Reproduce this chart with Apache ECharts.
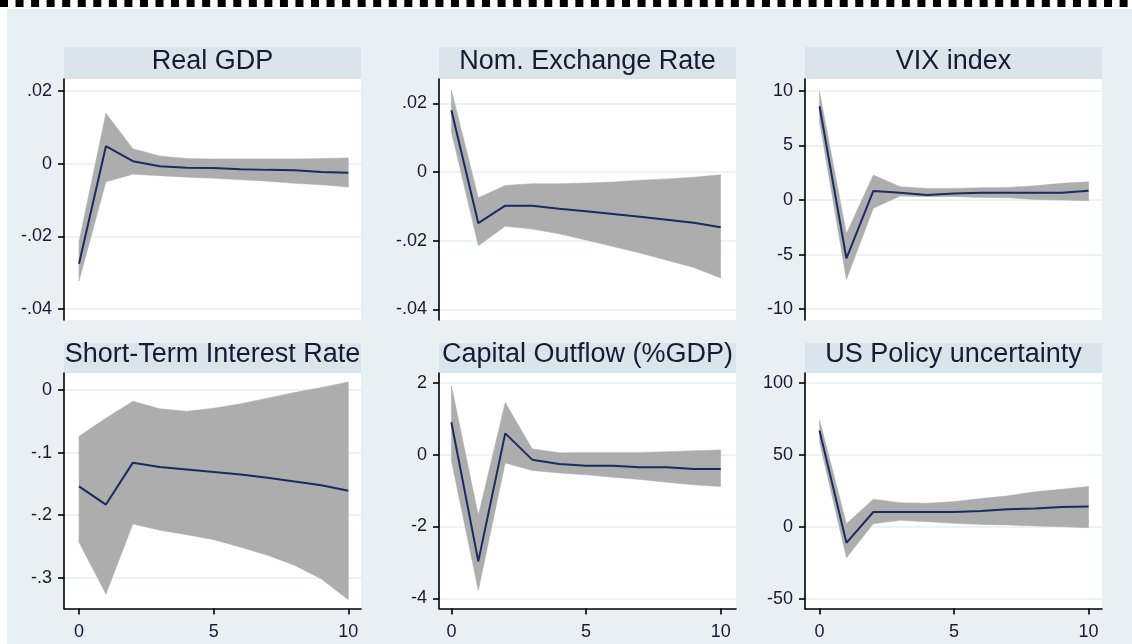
<!DOCTYPE html>
<html>
<head>
<meta charset="utf-8">
<script src="https://cdn.jsdelivr.net/npm/echarts@6/dist/echarts.min.js"></script>
<style>
  html, body { margin: 0; padding: 0; background: #ffffff; }
  #chart { width: 1132px; height: 644px; }
</style>
</head>
<body>
<div id="chart"></div>
<script>
// Impulse-response horizon (periods after the shock)
const steps = [0, 1, 2, 3, 4, 5, 6, 7, 8, 9, 10];

const titles = [
  'Real GDP', 'Nom. Exchange Rate', 'VIX index',
  'Short-Term Interest Rate', 'Capital Outflow (%GDP)', 'US Policy uncertainty'
];

// Real GDP
const gdpIrf = [-0.0275, 0.0048, 0.0007, -0.0007, -0.0011, -0.0012, -0.0015, -0.0017, -0.0018, -0.0023, -0.0025];
const gdpHi  = [-0.0214, 0.0139, 0.0041, 0.0021, 0.0014, 0.0013, 0.0013, 0.0013, 0.0013, 0.0014, 0.0016];
const gdpLo  = [-0.0323, -0.0050, -0.0029, -0.0033, -0.0037, -0.0040, -0.0044, -0.0048, -0.0054, -0.0058, -0.0064];

// Nominal exchange rate
const fxIrf = [0.0180, -0.0149, -0.0098, -0.0098, -0.0107, -0.0114, -0.0122, -0.0130, -0.0139, -0.0148, -0.0161];
const fxHi  = [0.0239, -0.0075, -0.0039, -0.0034, -0.0034, -0.0032, -0.0029, -0.0024, -0.0020, -0.0015, -0.0008];
const fxLo  = [0.0117, -0.0215, -0.0158, -0.0166, -0.0180, -0.0198, -0.0217, -0.0236, -0.0257, -0.0278, -0.0309];

// VIX index
const vixIrf = [8.60, -5.35, 0.83, 0.67, 0.46, 0.61, 0.67, 0.67, 0.67, 0.67, 0.86];
const vixHi  = [9.94, -3.06, 2.29, 1.22, 1.07, 1.07, 1.13, 1.16, 1.31, 1.53, 1.68];
const vixLo  = [7.19, -7.28, -0.76, 0.37, 0.31, 0.31, 0.24, 0.21, 0.06, 0.00, -0.06];

// Short-term interest rate
const rateIrf = [-0.154, -0.183, -0.116, -0.123, -0.127, -0.131, -0.135, -0.140, -0.146, -0.152, -0.161];
const rateHi  = [-0.074, -0.045, -0.018, -0.030, -0.034, -0.029, -0.022, -0.013, -0.004, 0.004, 0.013];
const rateLo  = [-0.243, -0.326, -0.214, -0.224, -0.231, -0.239, -0.251, -0.264, -0.280, -0.302, -0.335];

// Capital outflow (% of GDP)
const flowIrf = [0.90, -2.97, 0.59, -0.14, -0.26, -0.31, -0.31, -0.35, -0.35, -0.40, -0.40];
const flowHi  = [1.92, -1.69, 1.45, 0.16, 0.05, 0.06, 0.06, 0.06, 0.08, 0.11, 0.13];
const flowLo  = [-0.17, -3.78, -0.23, -0.44, -0.51, -0.56, -0.63, -0.69, -0.77, -0.84, -0.89];

// US economic policy uncertainty
const epuIrf = [66.7, -11.2, 10.2, 10.2, 10.2, 10.2, 10.9, 12.1, 12.6, 13.7, 14.0];
const epuHi  = [74.2, 2.1, 19.1, 16.7, 16.3, 17.4, 19.5, 21.4, 24.2, 26.0, 27.9];
const epuLo  = [58.6, -21.6, 2.1, 4.4, 3.5, 2.3, 1.6, 1.2, 0.5, 0.0, -0.7];

// Tick values
const gdpTicks  = [-0.04, -0.02, 0, 0.02];
const fxTicks   = [-0.04, -0.02, 0, 0.02];
const vixTicks  = [-10, -5, 0, 5, 10];
const rateTicks = [-0.3, -0.2, -0.1, 0];
const flowTicks = [-4, -2, 0, 2];
const epuTicks  = [-50, 0, 50, 100];
const stepTicks = [0, 5, 10];

const panels = [
  { irf: gdpIrf,  hi: gdpHi,  lo: gdpLo,  ticks: gdpTicks,  ymin: -0.0430, ymax: 0.0233 },
  { irf: fxIrf,   hi: fxHi,   lo: fxLo,   ticks: fxTicks,   ymin: -0.0431, ymax: 0.0271 },
  { irf: vixIrf,  hi: vixHi,  lo: vixLo,  ticks: vixTicks,  ymin: -11.0,   ymax: 11.1 },
  { irf: rateIrf, hi: rateHi, lo: rateLo, ticks: rateTicks, ymin: -0.349,  ymax: 0.0272 },
  { irf: flowIrf, hi: flowHi, lo: flowLo, ticks: flowTicks, ymin: -4.28,   ymax: 2.27 },
  { irf: epuIrf,  hi: epuHi,  lo: epuLo,  ticks: epuTicks,  ymin: -56.8,   ymax: 106.7 }
];

// Panel geometry (pixels)
const colLeft = [64, 439, 805];
const colX = [[-0.557, 10.47], [-0.46, 10.57], [-0.54, 10.5]];
const rows = [
  { barTop: 47,  barH: 32, top: 79,  height: 241, textDy: -1 },
  { barTop: 343, barH: 30, top: 373, height: 235.5, textDy: -3 }
];
const panelW = 297;

const BG = '#e8f0f3';
const BAR = '#d9e5eb';
const INK = '#161a33';
const BAND = '#adadad';
const LINE = '#1d2a5c';
const FONT = '"Liberation Sans", Arial, sans-serif';

// Stata-style tick labels: ".02", "-.1", "0"
function fmt(v) {
  const s = String(+(+v).toFixed(6));
  return s.replace(/^(-?)0\./, '$1.');
}

const grid = [], xAxis = [], yAxis = [], series = [], graphic = [];

// Frame: white margin and dashed rule along the top edge
graphic.push({ type: 'rect', shape: { x: 0, y: 0, width: 7, height: 644 }, style: { fill: '#ffffff' }, silent: true });
graphic.push({ type: 'rect', shape: { x: 0, y: 0, width: 1132, height: 9 }, style: { fill: '#ffffff' }, silent: true });
graphic.push({
  type: 'line', shape: { x1: 0, y1: 3.5, x2: 1132, y2: 3.5 },
  style: { stroke: '#000000', lineWidth: 7, lineDash: [8, 7.55] }, silent: true
});

panels.forEach((p, i) => {
  const r = rows[Math.floor(i / 3)];
  const c = i % 3;
  const bottomRow = i >= 3;

  grid.push({
    left: colLeft[c], top: r.top, width: panelW, height: r.height,
    show: true, backgroundColor: '#ffffff', borderWidth: 0
  });

  xAxis.push({
    type: 'value', gridIndex: i, min: colX[c][0], max: colX[c][1],
    show: bottomRow,
    axisLine: { show: true, onZero: false, lineStyle: { color: '#000000', width: 1.6 } },
    axisTick: { show: true, length: 6, customValues: stepTicks, lineStyle: { color: '#000000', width: 1.6 } },
    axisLabel: {
      show: true, customValues: stepTicks, formatter: fmt, margin: 15,
      fontFamily: FONT, fontSize: 18, color: INK
    },
    splitLine: { show: false }
  });

  yAxis.push({
    type: 'value', gridIndex: i, min: p.ymin, max: p.ymax,
    axisLine: { show: true, onZero: false, lineStyle: { color: '#000000', width: 1.6 } },
    axisTick: { show: true, length: 6, customValues: p.ticks, lineStyle: { color: '#000000', width: 1.6 } },
    axisLabel: {
      customValues: p.ticks, formatter: fmt, margin: 12,
      fontFamily: FONT, fontSize: 18, color: INK
    },
    splitLine: { show: true, lineStyle: { color: '#e6eff2', width: 1.5 } }
  });

  // Confidence band as one polygon through the axis scales
  series.push({
    type: 'custom', xAxisIndex: i, yAxisIndex: i, z: 2, silent: true,
    data: steps.map((s, k) => [s, p.lo[k], p.hi[k]]),
    encode: { x: 0, y: [1, 2] },
    renderItem: function (params, api) {
      if (params.dataIndex !== 0) return null;
      const pts = [];
      steps.forEach((s, k) => pts.push(api.coord([s, p.hi[k]])));
      for (let k = steps.length - 1; k >= 0; k--) pts.push(api.coord([steps[k], p.lo[k]]));
      return { type: 'polygon', shape: { points: pts }, style: { fill: BAND, stroke: BAND, lineWidth: 0.5 } };
    }
  });

  series.push({
    type: 'line', xAxisIndex: i, yAxisIndex: i, z: 3, silent: true,
    data: steps.map((s, k) => [s, p.irf[k]]),
    showSymbol: false, symbol: 'none',
    lineStyle: { color: LINE, width: 2 },
    animation: false
  });

  // Panel heading bar
  graphic.push({
    type: 'rect', silent: true,
    shape: { x: colLeft[c], y: r.barTop, width: panelW, height: r.barH },
    style: { fill: BAR }
  });
  graphic.push({
    type: 'text', silent: true,
    x: colLeft[c] + panelW / 2, y: r.barTop + r.barH / 2 + r.textDy,
    style: {
      text: titles[i], fill: INK, font: '27px "Liberation Sans", Arial, sans-serif',
      align: 'center', verticalAlign: 'middle'
    }
  });
});

const chart = echarts.init(document.getElementById('chart'), null, { renderer: 'canvas' });
chart.setOption({
  backgroundColor: BG,
  animation: false,
  grid, xAxis, yAxis, series, graphic
});
</script>
</body>
</html>
